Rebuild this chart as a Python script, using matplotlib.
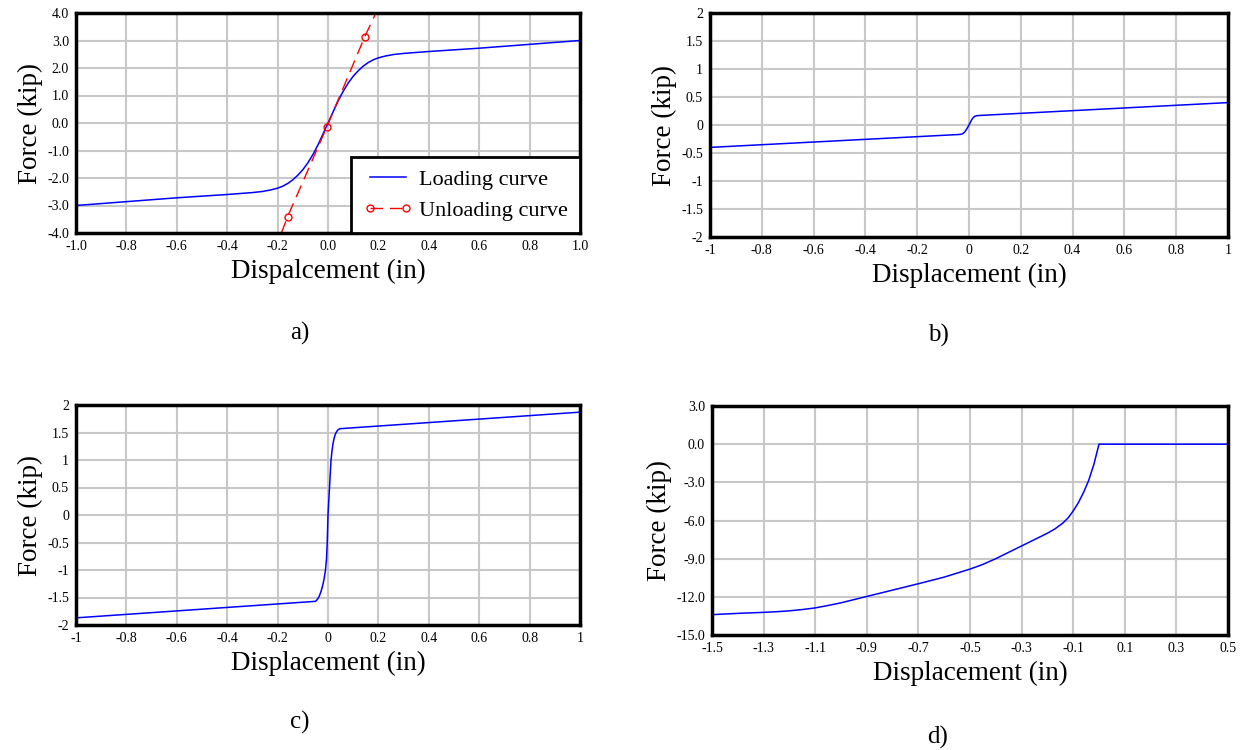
import numpy as np
import matplotlib
matplotlib.use('Agg')
import matplotlib.pyplot as plt
from matplotlib.ticker import FuncFormatter

plt.rcParams['font.family'] = ['Liberation Serif', 'DejaVu Serif']
plt.rcParams['axes.unicode_minus'] = False

# panel a: loading / unloading
a_load_x = [-1.0, -0.8, -0.6, -0.4, -0.3, -0.26, -0.23, -0.2, -0.18, -0.16, -0.14, -0.12, -0.1,
            -0.08, -0.06, -0.04, -0.02, 0.0, 0.02, 0.04, 0.06, 0.08, 0.1, 0.12, 0.14, 0.16,
            0.18, 0.2, 0.23, 0.26, 0.3, 0.4, 0.6, 0.8, 1.0]
a_load_y = [-3.0, -2.86, -2.72, -2.6, -2.53, -2.49, -2.44, -2.37, -2.3, -2.2, -2.07, -1.9, -1.7,
            -1.45, -1.15, -0.8, -0.4, 0.0, 0.4, 0.8, 1.15, 1.45, 1.7, 1.9, 2.07, 2.2,
            2.3, 2.37, 2.44, 2.49, 2.53, 2.6, 2.72, 2.86, 3.0]
a_unload_x = [-0.185, -0.16, -0.005, 0.145, 0.195]
a_unload_y = [-4.0, -3.4, -0.15, 3.12, 4.1]

# panel b
b_x = [-1.0, -0.04, -0.03, -0.025, -0.02, -0.015, -0.01, -0.005, 0.0, 0.005, 0.01, 0.015, 0.02,
       0.025, 0.03, 0.04, 1.0]
b_y = [-0.4, -0.17, -0.165, -0.155, -0.14, -0.115, -0.08, -0.04, 0.0, 0.045, 0.09, 0.125, 0.148,
       0.16, 0.166, 0.17, 0.4]

# panel c
c_x = [-1.0, -0.05, -0.045, -0.04, -0.035, -0.03, -0.025, -0.02, -0.015, -0.01, -0.006, -0.003, 0.0,
       0.003, 0.006, 0.009, 0.012, 0.016, 0.02, 0.025, 0.03, 0.035, 0.04, 0.045, 0.05, 1.0]
c_y = [-1.87, -1.57, -1.55, -1.52, -1.48, -1.42, -1.35, -1.26, -1.15, -1.0, -0.8, -0.5, 0.0,
       0.25, 0.5, 0.75, 1.0, 1.17, 1.3, 1.41, 1.48, 1.52, 1.55, 1.565, 1.57, 1.87]

# panel d
d_x = [-1.5, -1.4, -1.3, -1.25, -1.2, -1.15, -1.1, -1.05, -1.0, -0.9, -0.8, -0.7, -0.6, -0.5,
       -0.45, -0.4, -0.35, -0.3, -0.25, -0.2, -0.17, -0.14, -0.12, -0.1, -0.08, -0.06, -0.04,
       -0.02, 0.0, 0.5]
d_y = [-13.4, -13.3, -13.22, -13.17, -13.1, -13.0, -12.87, -12.68, -12.47, -11.97, -11.47, -10.97,
       -10.45, -9.82, -9.45, -9.0, -8.5, -8.0, -7.5, -7.0, -6.65, -6.2, -5.8, -5.25, -4.6, -3.8,
       -2.85, -1.6, 0.0, 0.0]

W, H = 1244, 750
fig = plt.figure(figsize=(W / 100, H / 100), dpi=100)

def box(l, t, r, b):
    return [l / W, 1 - b / H, (r - l) / W, (b - t) / H]

fmt1 = FuncFormatter(lambda v, p: '%.1f' % (round(v, 6) + 0.0))
fmtg = FuncFormatter(lambda v, p: '%g' % (round(v, 6) + 0.0))

def style(ax, xlim, ylim, xticks, yticks, fmtx, fmty, xlabel):
    ax.set_xlim(*xlim)
    ax.set_ylim(*ylim)
    ax.set_xticks(np.round(xticks, 6))
    ax.set_yticks(np.round(yticks, 6))
    ax.xaxis.set_major_formatter(fmtx)
    ax.yaxis.set_major_formatter(fmty)
    ax.grid(True, color='#c8c8c8', linewidth=1.5)
    ax.set_axisbelow(True)
    for s in ax.spines.values():
        s.set_linewidth(2.5)
        s.set_color('black')
    ax.tick_params(length=0, pad=5, labelsize=10)
    ax.set_xlabel(xlabel, fontsize=19.5, labelpad=4)
    ax.set_ylabel('Force (kip)', fontsize=19.5, labelpad=3)

ax1 = fig.add_axes(box(76, 13, 580, 233))
ax1.plot(a_load_x, a_load_y, color='blue', lw=1.1, label='Loading curve')
ax1.plot(a_unload_x, a_unload_y, color='red', lw=1.0, dashes=(9, 5), marker='o', ms=5,
         mfc='none', mec='red', markevery=[1, 2, 3], label='Unloading curve')
style(ax1, (-1, 1), (-4, 4), np.arange(-1, 1.01, 0.2), np.arange(-4, 4.01, 1),
      fmt1, fmt1, 'Dispalcement (in)')
leg = ax1.legend(loc='lower right', borderaxespad=0, fontsize=16, fancybox=False,
                 framealpha=1, edgecolor='black', handlelength=2.2, handletextpad=0.3,
                 numpoints=2, borderpad=0.55, labelspacing=0.45)
leg.get_frame().set_linewidth(2)

ax2 = fig.add_axes(box(710, 13, 1228, 237))
ax2.plot(b_x, b_y, color='blue', lw=1.1)
style(ax2, (-1, 1), (-2, 2), np.arange(-1, 1.01, 0.2), np.arange(-2, 2.01, 0.5),
      fmtg, fmtg, 'Displacement (in)')

ax3 = fig.add_axes(box(76, 405, 580, 625))
ax3.plot(c_x, c_y, color='blue', lw=1.1)
style(ax3, (-1, 1), (-2, 2), np.arange(-1, 1.01, 0.2), np.arange(-2, 2.01, 0.5),
      fmtg, fmtg, 'Displacement (in)')

ax4 = fig.add_axes(box(712, 406, 1228, 635))
ax4.plot(d_x, d_y, color='blue', lw=1.1)
style(ax4, (-1.5, 0.5), (-15, 3), np.arange(-1.5, 0.51, 0.2), np.arange(-15, 3.01, 3),
      fmt1, fmt1, 'Displacement (in)')

for lab, x, y in [('a)', 300, 333), ('b)', 938, 335), ('c)', 300, 722), ('d)', 938, 737)]:
    fig.text(x / W, 1 - y / H, lab, fontsize=18, ha='center', va='center')

fig.savefig('out.png', dpi=100)
